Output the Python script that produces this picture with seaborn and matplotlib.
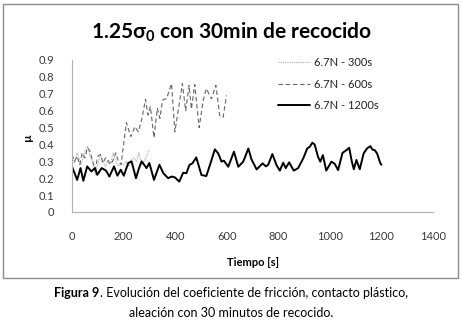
import numpy as np
import pandas as pd
import matplotlib
matplotlib.use("Agg")
import matplotlib.pyplot as plt
import seaborn as sns
from matplotlib.patches import Rectangle

# ---- data ----
t_300 = [0, 10, 20, 35, 50, 60, 70, 80, 90, 100, 110, 120, 130, 140, 150, 160, 170, 180,
         190, 200, 210, 220, 230, 240, 250, 260, 270, 280, 290, 300]
mu_300 = [0.32, 0.29, 0.35, 0.28, 0.36, 0.39, 0.33, 0.30, 0.22, 0.28, 0.34, 0.30, 0.27, 0.31,
          0.29, 0.35, 0.30, 0.27, 0.29, 0.28, 0.30, 0.27, 0.31, 0.32, 0.30, 0.35, 0.28, 0.30,
          0.33, 0.37]

t_600 = [0, 10, 20, 30, 40, 50, 60, 70, 80, 90, 100, 110, 120, 130, 140, 150, 160, 170, 180,
         190, 200, 211, 228, 244, 257, 270, 285, 295, 304, 318, 331, 341, 351, 367, 386, 399,
         415, 428, 441, 454, 463, 476, 493, 509, 521, 541, 558, 573, 586, 599]
mu_600 = [0.34, 0.30, 0.33, 0.28, 0.35, 0.32, 0.38, 0.36, 0.30, 0.25, 0.33, 0.34, 0.29, 0.32,
          0.30, 0.28, 0.31, 0.35, 0.30, 0.28, 0.40, 0.53, 0.446, 0.505, 0.475, 0.545, 0.667,
          0.574, 0.624, 0.44, 0.614, 0.554, 0.663, 0.672, 0.76, 0.475, 0.633, 0.76, 0.60,
          0.75, 0.61, 0.755, 0.50, 0.663, 0.73, 0.67, 0.75, 0.57, 0.56, 0.69]

t_1200 = [0, 10, 20, 33, 44, 59, 75, 89, 98, 115, 132, 145, 163, 176, 189, 201, 218, 231, 248,
          260, 270, 289, 300, 318, 339, 354, 373, 386, 399, 416, 431, 444, 455, 467, 482, 502,
          521, 537, 554, 567, 580, 589, 606, 628, 645, 664, 684, 696, 716, 729, 739, 752, 761,
          777, 793, 806, 819, 829, 842, 860, 877, 897, 912, 922, 932, 941, 954, 963, 973, 986,
          1006, 1019, 1032, 1049, 1064, 1075, 1085, 1093, 1103, 1116, 1131, 1144, 1157, 1165,
          1174, 1183, 1196, 1200]
mu_1200 = [0.268, 0.23, 0.19, 0.26, 0.185, 0.27, 0.24, 0.26, 0.22, 0.26, 0.245, 0.21, 0.27,
           0.215, 0.25, 0.215, 0.29, 0.30, 0.20, 0.26, 0.30, 0.26, 0.29, 0.19, 0.28, 0.23,
           0.20, 0.21, 0.205, 0.18, 0.232, 0.23, 0.278, 0.288, 0.323, 0.219, 0.213, 0.288,
           0.371, 0.347, 0.298, 0.304, 0.268, 0.357, 0.268, 0.298, 0.376, 0.312, 0.252, 0.272,
           0.288, 0.27, 0.28, 0.343, 0.278, 0.245, 0.292, 0.26, 0.294, 0.245, 0.26, 0.318,
           0.376, 0.386, 0.41, 0.40, 0.327, 0.298, 0.337, 0.245, 0.298, 0.285, 0.248, 0.35,
           0.366, 0.38, 0.30, 0.253, 0.308, 0.253, 0.347, 0.376, 0.39, 0.37, 0.366, 0.347,
           0.288, 0.28]

labels = ["6.7N - 300s", "6.7N - 600s", "6.7N - 1200s"]
x_ticks = [0, 200, 400, 600, 800, 1000, 1200, 1400]
y_ticks = [0, 0.1, 0.2, 0.3, 0.4, 0.5, 0.6, 0.7, 0.8, 0.9]
y_ticklabels = ["0", "0.1", "0.2", "0.3", "0.4", "0.5", "0.6", "0.7", "0.8", "0.9"]
title = r"1.25$\mathbf{\sigma_0}$ con 30min de recocido"
xlabel = "Tiempo [s]"
ylabel = "µ"
caption_bold = "Figura 9"
caption_rest = ". Evolución del coeficiente de fricción, contacto plástico,"
caption_line2 = "aleación con 30 minutos de recocido."

# ---- style ----
sns.set_style("white")
plt.rcParams["font.family"] = ["Lato", "DejaVu Sans"]
plt.rcParams["mathtext.fontset"] = "custom"
plt.rcParams["mathtext.rm"] = "Lato"
plt.rcParams["mathtext.bf"] = "Lato:bold"

W, H = 463, 321
fig = plt.figure(figsize=(W / 100, H / 100), dpi=100)
fig.patch.set_facecolor("white")

# chart frame
fig.patches.append(Rectangle((3 / W, 1 - 278 / H), 455 / W, 274 / H, transform=fig.transFigure,
                             fill=False, edgecolor="#8c8c8c", linewidth=1.0))

ax = fig.add_axes([72 / W, 1 - 212 / H, 361 / W, 152 / H])

df300 = pd.DataFrame({"t": t_300, "mu": mu_300})
df600 = pd.DataFrame({"t": t_600, "mu": mu_600})
df1200 = pd.DataFrame({"t": t_1200, "mu": mu_1200})

sns.lineplot(data=df300, x="t", y="mu", ax=ax, color="#a6a6a6", linewidth=0.8,
             linestyle=(0, (1, 1)), label=labels[0], sort=False)
sns.lineplot(data=df600, x="t", y="mu", ax=ax, color="#666666", linewidth=0.8,
             linestyle=(0, (4, 2.5)), label=labels[1], sort=False)
sns.lineplot(data=df1200, x="t", y="mu", ax=ax, color="black", linewidth=1.4,
             label=labels[2], sort=False)

ax.set_xlim(0, 1400)
ax.set_ylim(0, 0.9)
ax.set_xticks(x_ticks)
ax.set_xticklabels([str(v) for v in x_ticks])
ax.set_yticks(y_ticks)
ax.set_yticklabels(y_ticklabels)
ax.tick_params(axis="both", length=0, labelsize=8, colors="#3a3a3a")
ax.tick_params(axis="x", pad=14)
ax.tick_params(axis="y", pad=13)
ax.set_xlabel("")
ax.set_ylabel("")
for s in ["top", "right"]:
    ax.spines[s].set_visible(False)
for s in ["left", "bottom"]:
    ax.spines[s].set_color("#b0b0b0")
    ax.spines[s].set_linewidth(0.8)
ax.set_facecolor("white")

leg = ax.legend(loc="upper left", bbox_to_anchor=(278 / W, 1 - 57 / H),
                bbox_transform=fig.transFigure, frameon=False, fontsize=8,
                handlelength=2.9, handletextpad=0.3, labelspacing=0.95,
                borderpad=0, borderaxespad=0)
for txt in leg.get_texts():
    txt.set_color("#222222")

fig.text(231 / W, 1 - 32 / H, title, ha="center", va="center", fontsize=15,
         fontweight="bold", color="black")
fig.text(253 / W, 1 - 262 / H, xlabel, ha="center", va="center", fontsize=8,
         fontweight="bold", color="black")
fig.text(28 / W, 1 - 137 / H, ylabel, ha="center", va="center", fontsize=8.5,
         fontweight="bold", rotation=90, color="black")

# caption
renderer = fig.canvas.get_renderer()
t1 = fig.text(0, 1 - 293 / H, caption_bold, ha="left", va="center", fontsize=9,
              fontweight="bold", color="black")
t2 = fig.text(0, 1 - 293 / H, caption_rest, ha="left", va="center", fontsize=9,
              color="black")
w1 = t1.get_window_extent(renderer).width
w2 = t2.get_window_extent(renderer).width
start = 231 - (w1 + w2) / 2
t1.set_x(start / W)
t2.set_x((start + w1) / W)
fig.text(231 / W, 1 - 313 / H, caption_line2, ha="center", va="center", fontsize=9,
         color="black")

fig.savefig("out.png", dpi=100)
